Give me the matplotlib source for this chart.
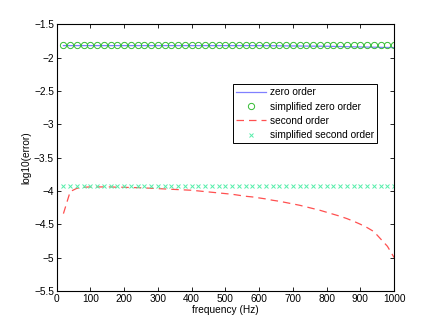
import matplotlib
matplotlib.use("Agg")
import matplotlib.pyplot as plt

plt.rcParams['font.family'] = ['Liberation Sans', 'DejaVu Sans']

# frequency samples (Hz)
freq = list(range(20, 1001, 20))

zero_order = [-1.82] * 30 + [
    -1.821, -1.822, -1.823, -1.824, -1.825, -1.826, -1.827, -1.828, -1.829, -1.83,
    -1.832, -1.834, -1.836, -1.838, -1.84, -1.842, -1.844, -1.846, -1.848, -1.85,
]
simplified_zero = [-1.815] * 50
second_order = [
    -4.34, -4.01, -3.96, -3.945, -3.94, -3.94, -3.94, -3.94, -3.945, -3.945,
    -3.95, -3.95, -3.955, -3.96, -3.965, -3.97, -3.975, -3.98, -3.985, -3.99,
    -4.0, -4.01, -4.02, -4.03, -4.04, -4.05, -4.065, -4.08, -4.09, -4.105,
    -4.12, -4.14, -4.155, -4.175, -4.195, -4.215, -4.24, -4.265, -4.29, -4.32,
    -4.35, -4.38, -4.415, -4.455, -4.5, -4.55, -4.61, -4.72, -4.83, -5.0,
]
simplified_second = [-3.925] * 50

fig = plt.figure(figsize=(4.36, 3.28), dpi=100)
ax = fig.add_axes([0.13, 0.113, 0.774, 0.813])

ax.plot(freq, zero_order, color='#8080ff', lw=0.9, label='zero order')
ax.plot(freq, simplified_zero, ls='none', marker='o', mfc='none', mec='#33bb33',
        ms=4.5, mew=0.7, label='simplified zero order')
ax.plot(freq, second_order, color='#ff5050', lw=0.9, dashes=(6, 4), label='second order')
ax.plot(freq, simplified_second, ls='none', marker='x', color='#55eeaa',
        ms=3.5, mew=0.7, label='simplified second order')

ax.set_xlim(0, 1000)
ax.set_ylim(-5.5, -1.5)
ax.set_xticks(range(0, 1001, 100))
ax.set_yticks([-5.5, -5, -4.5, -4, -3.5, -3, -2.5, -2, -1.5])
ax.set_yticklabels(['\u22125.5', '\u22125', '\u22124.5', '\u22124', '\u22123.5',
                    '\u22123', '\u22122.5', '\u22122', '\u22121.5'])
ax.tick_params(direction='in', top=True, right=True, labelsize=7.3, length=3, width=0.6, pad=2)
for s in ax.spines.values():
    s.set_linewidth(0.8)

ax.set_xlabel('frequency (Hz)', fontsize=7.3, labelpad=1)
ax.set_ylabel('log10(error)', fontsize=7.3, labelpad=2)

leg = ax.legend(loc='upper left', bbox_to_anchor=(0.522, 0.775), fontsize=7.3,
                frameon=True, fancybox=False, edgecolor='black', framealpha=1,
                borderpad=0.3, labelspacing=0.42, handlelength=3, handletextpad=0.35,
                borderaxespad=0)
leg.get_frame().set_linewidth(0.7)

fig.savefig('out.png', dpi=100)
